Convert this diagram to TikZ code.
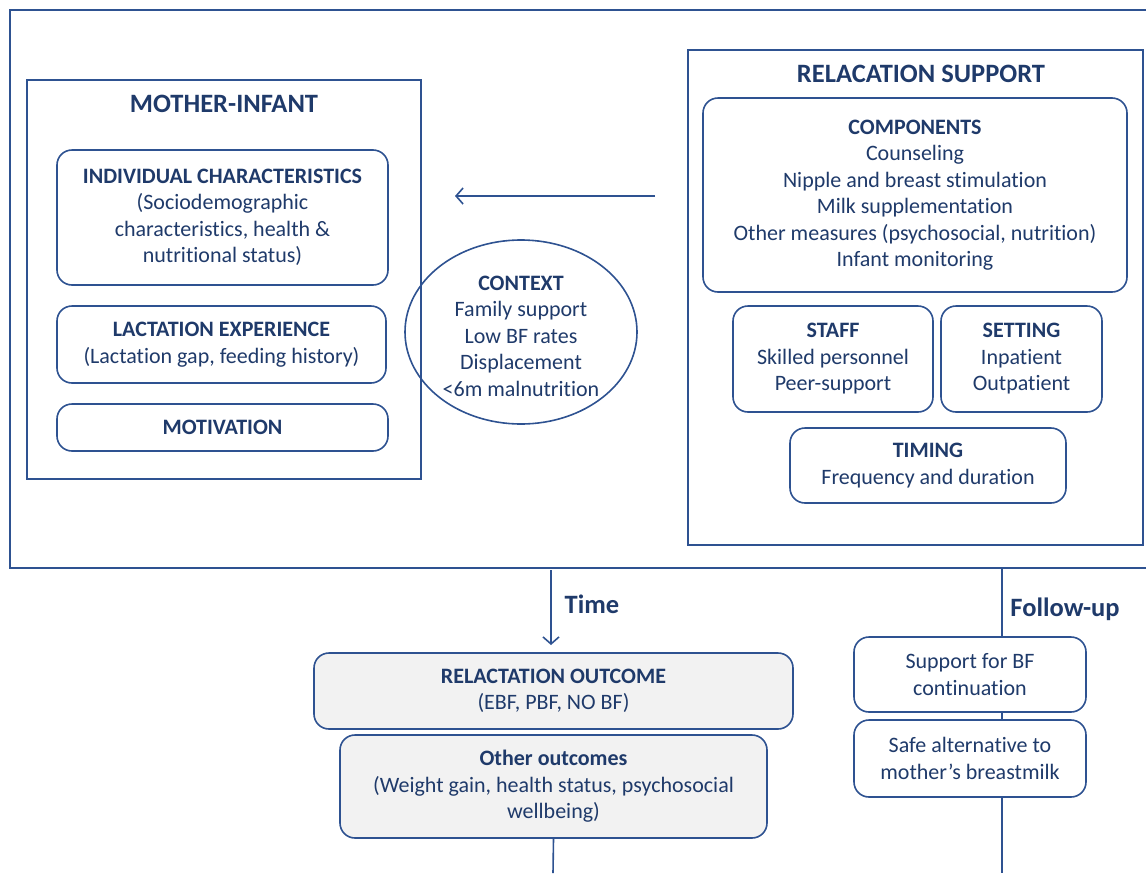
\documentclass[tikz,border=0pt]{standalone}
\usepackage{fontspec}
\setmainfont[RawFeature={-liga;-calt;-clig;-dlig}]{Carlito}
\usetikzlibrary{shapes.geometric,arrows.meta}
\definecolor{txtblue}{RGB}{31,58,106}
\definecolor{lnblue}{RGB}{46,82,145}
\definecolor{outgray}{RGB}{242,242,242}
\tikzset{
  x=1pt,y=-1pt,
  every node/.style={text=txtblue,font=\fontsize{22}{26.5}\selectfont,align=center,inner sep=0pt},
  bigtitle/.style={font=\fontsize{26.5}{30}\selectfont\bfseries},
  frame/.style={draw=lnblue,line width=1.6pt},
  rbox/.style={draw=lnblue,line width=1.6pt,rounded corners=15pt,fill=white},
  gbox/.style={draw=lnblue,line width=1.6pt,rounded corners=15pt,fill=outgray},
  conn/.style={draw=lnblue,line width=1.6pt},
  arr/.style={draw=lnblue,line width=1.6pt,-{Straight Barb[length=7pt,width=16pt,line width=1.6pt]}},
}
\begin{document}
\begin{tikzpicture}
\useasboundingbox (0,0) rectangle (1146,873);
% outer frame (open on the right)
\draw[frame] (1146,10) -- (10,10) -- (10,568) -- (1146,568);
% mother-infant
\node[frame,minimum width=394pt,minimum height=399pt] (mi) at (224,279.5) {};
\node[bigtitle] (mititle) at (224,104) {MOTHER-INFANT};
\node[rbox,minimum width=331pt,minimum height=135pt] (indiv) at (222.5,217.5)
  {\textbf{INDIVIDUAL CHARACTERISTICS}\\(Sociodemographic\\characteristics, health \&\\nutritional status)};
\node[rbox,minimum width=329pt,minimum height=77pt] (lact) at (221.5,344.5)
  {\textbf{LACTATION EXPERIENCE}\\(Lactation gap, feeding history)};
\node[rbox,minimum width=331pt,minimum height=47pt] (motiv) at (222.5,427.5)
  {\textbf{MOTIVATION}};
% context
\node[draw=lnblue,line width=1.6pt,ellipse,minimum width=232pt,minimum height=184pt] (ctx) at (521,332) {};
\node (ctxtext) at (521,336) {\textbf{CONTEXT}\\Family support\\Low BF rates\\Displacement\\<6m malnutrition};
% relacation support
\node[frame,minimum width=455pt,minimum height=495pt] (rs) at (915.5,297.5) {};
\node[bigtitle] (rstitle) at (921,74) {RELACATION SUPPORT};
\node[rbox,minimum width=424pt,minimum height=194pt] (comp) at (915,195)
  {\textbf{COMPONENTS}\\Counseling\\Nipple and breast stimulation\\Milk supplementation\\Other measures (psychosocial, nutrition)\\Infant monitoring};
\node[rbox,minimum width=200pt,minimum height=106pt] (staff) at (833,359)
  {\textbf{STAFF}\\Skilled personnel\\Peer-support};
\node[rbox,minimum width=161pt,minimum height=106pt] (setting) at (1021.5,359)
  {\textbf{SETTING}\\Inpatient\\Outpatient};
\node[rbox,minimum width=276pt,minimum height=75pt] (timing) at (928,465.5)
  {\textbf{TIMING}\\Frequency and duration};
% arrow support -> mother-infant
\coordinate (astart) at (655,196);
\coordinate (aend) at (455,196);
\draw[arr] (astart) -- (aend);
% time arrow
\coordinate (tstart) at (551,570);
\coordinate (tend) at (551,645);
\draw[arr] (tstart) -- (tend);
\node[bigtitle] (timelbl) at (592,604) {Time};
% follow-up line
\coordinate (fstart) at (1002,568);
\coordinate (fend) at (1002,873);
\draw[conn] (fstart) -- (fend);
\node[bigtitle] (fulbl) at (1065,609) {Follow-up};
% outcomes
\node[gbox,minimum width=479pt,minimum height=76pt] (relout) at (553.5,691)
  {\textbf{RELACTATION OUTCOME}\\(EBF, PBF, NO BF)};
\node[gbox,minimum width=427pt,minimum height=103pt] (other) at (553.5,786.5)
  {\textbf{Other outcomes}\\(Weight gain, health status, psychosocial\\wellbeing)};
\coordinate (oend) at (553,873);
\draw[conn] (other.south) -- (oend);
% follow-up boxes
\node[rbox,minimum width=232pt,minimum height=75pt] (supbf) at (970,674.5)
  {Support for BF\\continuation};
\node[rbox,minimum width=232pt,minimum height=77pt] (safe) at (970,758.5)
  {Safe alternative to\\mother’s breastmilk};
\end{tikzpicture}
\end{document}
